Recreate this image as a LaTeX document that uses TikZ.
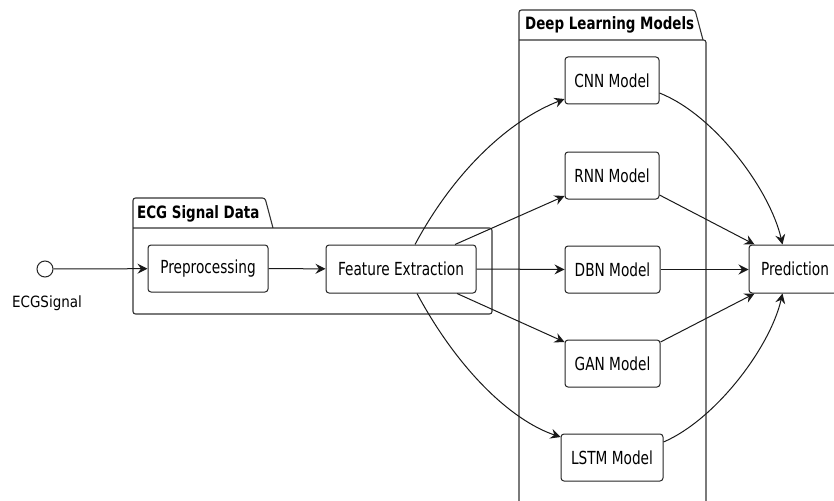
\documentclass[tikz,border=0pt]{standalone}
\usepackage{fontspec}
\setmainfont{DejaVu Sans}[FakeStretch=0.76]
\newfontfamily\mytitlefont{DejaVu Sans}[FakeStretch=0.79]
\newfontfamily\mylabelfont{DejaVu Sans}[FakeStretch=0.87]
\usetikzlibrary{arrows.meta}
\newcommand\mynodefont{\fontsize{18}{21}\selectfont}
\tikzset{
  box/.style={draw=black!85, line width=1pt, rounded corners=3pt, inner sep=0pt,
    minimum height=47pt, font=\mynodefont},
  frame/.style={draw=black!80, line width=1.1pt, rounded corners=2.5pt},
  conn/.style={draw=black!90, line width=1pt,
    -{Stealth[length=10pt,width=10pt,inset=3.5pt]}},
  ftitle/.style={anchor=base west, inner sep=0pt,
    font=\mytitlefont\bfseries\fontsize{17}{20}\selectfont}
}
\begin{document}
\begin{tikzpicture}[x=1pt,y=-1pt]
\useasboundingbox (0,0) rectangle (834,500);
\fill[white] (0,0) rectangle (834,500);
\clip (0,0) rectangle (834,500);

% frames
\draw[frame] (273,228) -- (265,198) -- (133,198) -- (133,314) -- (492,314) -- (492,228) -- (133,228);
\draw[frame] (519,520) -- (519,10) -- (695,10) -- (703,40);
\draw[frame] (519,40) -- (706,40) -- (706,520);
\node[ftitle] (t1) at (137,218) {ECG Signal Data};
\node[ftitle] (t2) at (525,30) {Deep Learning Models};

% nodes
\node[draw=black!85, line width=1pt, circle, minimum size=16pt, inner sep=0pt] (start) at (45,269) {};
\node[anchor=base, inner sep=0pt, font=\mylabelfont\fontsize{15.5}{18}\selectfont] (slabel) at (47,307) {ECGSignal};
\node[box, minimum width=120pt] (pre) at (208,268.5) {Preprocessing};
\node[box, minimum width=150pt, minimum height=48pt] (fe) at (401,269) {Feature Extraction};
\node[box, minimum width=94pt] (cnn) at (612,80.5) {CNN Model};
\node[box, minimum width=94pt] (rnn) at (612,175.5) {RNN Model};
\node[box, minimum width=95pt] (dbn) at (612.5,269.5) {DBN Model};
\node[box, minimum width=95pt] (gan) at (612.5,363.5) {GAN Model};
\node[box, minimum width=102pt] (lstm) at (612,457.5) {LSTM Model};
\node[box, minimum width=92pt, minimum height=48pt] (pred) at (795,269) {Prediction};

% connectors
\draw[conn] (start) -- (pre);
\draw[conn] (pre) -- (fe);
\draw[conn] ([xshift=14pt]fe.north) .. controls (455,170) and (510,120) .. ([yshift=-18.5pt]cnn.west);
\draw[conn] ([xshift=54pt]fe.north) -- ([yshift=-20.5pt]rnn.west);
\draw[conn] (fe.east) -- (dbn.west);
\draw[conn] ([xshift=56pt]fe.south) -- ([yshift=21.5pt]gan.west);
\draw[conn] ([xshift=16pt]fe.south) .. controls (457,368) and (510,420) .. ([yshift=20.5pt]lstm.west);

\draw[conn] ([yshift=-12.5pt]cnn.east) .. controls (715,115) and (770,190) .. ([xshift=34pt]pred.north west);
\draw[conn] ([yshift=-19.5pt]rnn.east) -- ([xshift=6pt]pred.north west);
\draw[conn] (dbn.east) -- (pred.west |- dbn.east);
\draw[conn] ([yshift=21.5pt]gan.east) -- ([xshift=6pt]pred.south west);
\draw[conn] ([yshift=15.5pt]lstm.east) .. controls (715,420) and (770,348) .. ([xshift=34pt]pred.south west);
\end{tikzpicture}
\end{document}
